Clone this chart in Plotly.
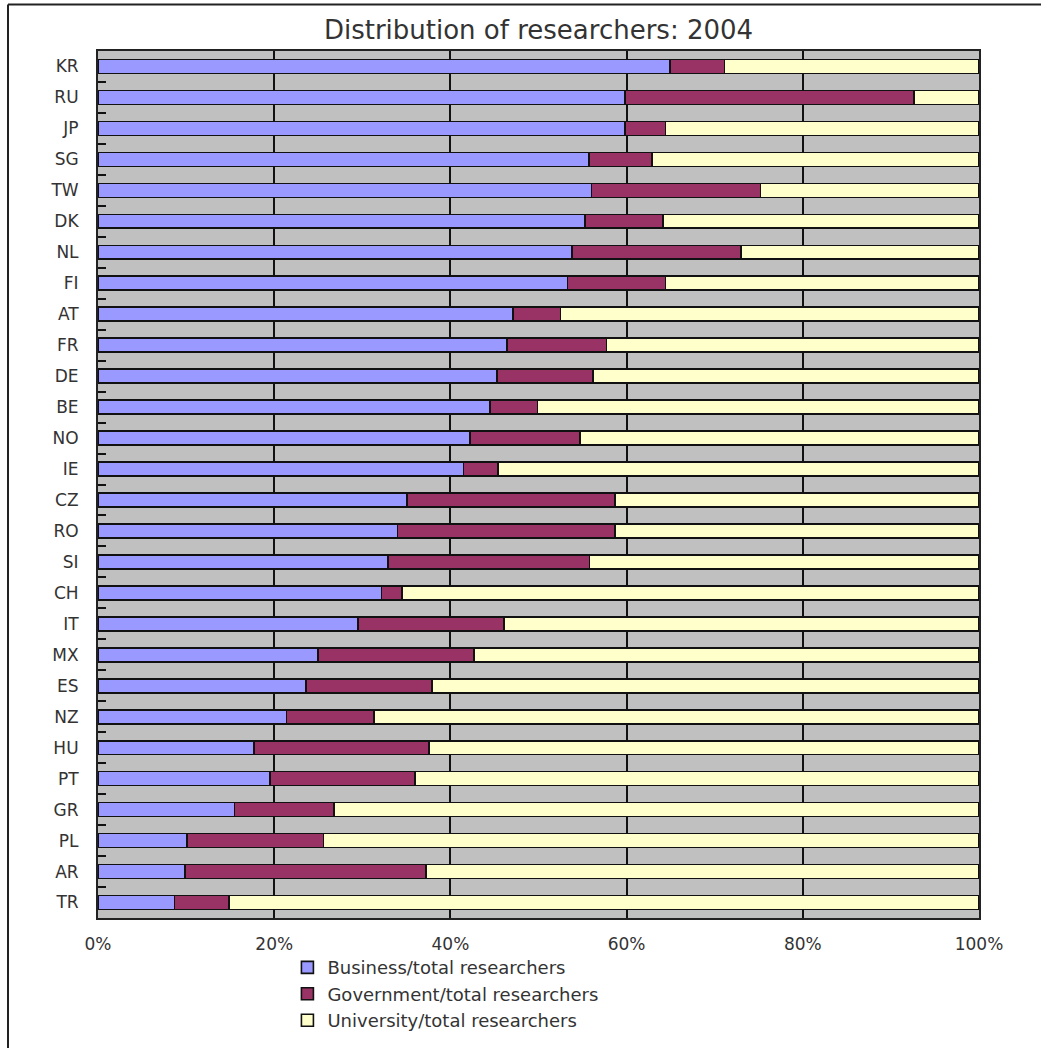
import plotly.graph_objects as go

countries = ["KR", "RU", "JP", "SG", "TW", "DK", "NL", "FI", "AT", "FR", "DE", "BE", "NO", "IE",
             "CZ", "RO", "SI", "CH", "IT", "MX", "ES", "NZ", "HU", "PT", "GR", "PL", "AR", "TR"]
business = [64.9, 59.8, 59.8, 55.7, 56.0, 55.3, 53.8, 53.3, 47.1, 46.4, 45.3, 44.5, 42.2, 41.5,
            35.1, 34.0, 32.9, 32.2, 29.5, 25.0, 23.6, 21.4, 17.7, 19.5, 15.5, 10.1, 9.9, 8.7]
government = [6.2, 32.8, 4.6, 7.2, 19.2, 8.8, 19.2, 11.1, 5.4, 11.3, 10.9, 5.4, 12.5, 3.9,
              23.6, 24.7, 22.9, 2.3, 16.6, 17.7, 14.3, 9.9, 19.9, 16.5, 11.3, 15.5, 27.3, 6.2]
university = [28.9, 7.4, 35.6, 37.1, 24.8, 35.9, 27.0, 35.6, 47.5, 42.3, 43.8, 50.1, 45.3, 54.6,
              41.3, 41.3, 44.2, 65.5, 53.9, 57.3, 62.1, 68.7, 62.4, 64.0, 73.2, 74.4, 62.8, 85.1]
series_names = ["Business/total researchers", "Government/total researchers", "University/total researchers"]
series_colors = ["#9999FF", "#993366", "#FFFFCC"]
x_ticks = [0, 20, 40, 60, 80, 100]
x_tick_labels = ["0%", "20%", "40%", "60%", "80%", "100%"]

FONT = "DejaVu Sans, Liberation Sans, Arial, sans-serif"
TXT = "#333333"

fig = go.Figure()
for name, vals, col in zip(series_names, [business, government, university], series_colors):
    fig.add_trace(go.Bar(
        y=countries, x=vals, name=name, orientation="h",
        marker=dict(color=col, line=dict(color="#111111", width=1.6)),
    ))

W, H = 1041, 1051
L, R, T, B = 98, 62, 51, 126
pw, ph = W - L - R, H - T - B

def px_x(p):
    return (p - L) / pw

def px_y(p):
    return (H - B - p) / ph

fig.update_layout(
    width=W, height=H,
    margin=dict(l=L, r=R, t=T, b=B),
    barmode="stack", bargap=0.55,
    plot_bgcolor="#C0C0C0", paper_bgcolor="white",
    font=dict(family=FONT, color=TXT, size=16),
    title=dict(text="Distribution of researchers: 2004", x=0.5, xref="paper", xanchor="center",
               y=1 - 30 / H, yanchor="middle", font=dict(size=26, color=TXT, family=FONT)),
    legend=dict(orientation="v", traceorder="normal", x=0.215, xanchor="left",
                y=-0.036, yanchor="top", font=dict(size=18, color=TXT, family=FONT),
                bgcolor="rgba(0,0,0,0)", itemclick=False),
    xaxis=dict(range=[0, 100], tickvals=x_ticks, ticktext=x_tick_labels,
               showgrid=True, gridcolor="#111111", gridwidth=2,
               showline=True, linecolor="#222222", linewidth=2, mirror=True,
               ticks="", zeroline=False, ticklabelstandoff=10,
               tickfont=dict(size=17, color=TXT), fixedrange=True),
    yaxis=dict(categoryorder="array", categoryarray=countries, autorange="reversed",
               showline=True, linecolor="#222222", linewidth=2, mirror=True,
               ticks="inside", ticklen=8, tickwidth=2, tickcolor="#111111", tickson="boundaries",
               ticklabelstandoff=14, showgrid=False,
               tickfont=dict(size=17, color=TXT), fixedrange=True),
    shapes=[
        dict(type="line", xref="paper", yref="paper", x0=px_x(8), x1=px_x(W + 5),
             y0=px_y(4), y1=px_y(4), line=dict(color="#222222", width=2)),
        dict(type="line", xref="paper", yref="paper", x0=px_x(8), x1=px_x(8),
             y0=px_y(4), y1=px_y(H + 5), line=dict(color="#222222", width=2)),
    ],
)

fig.write_html("out.html")
